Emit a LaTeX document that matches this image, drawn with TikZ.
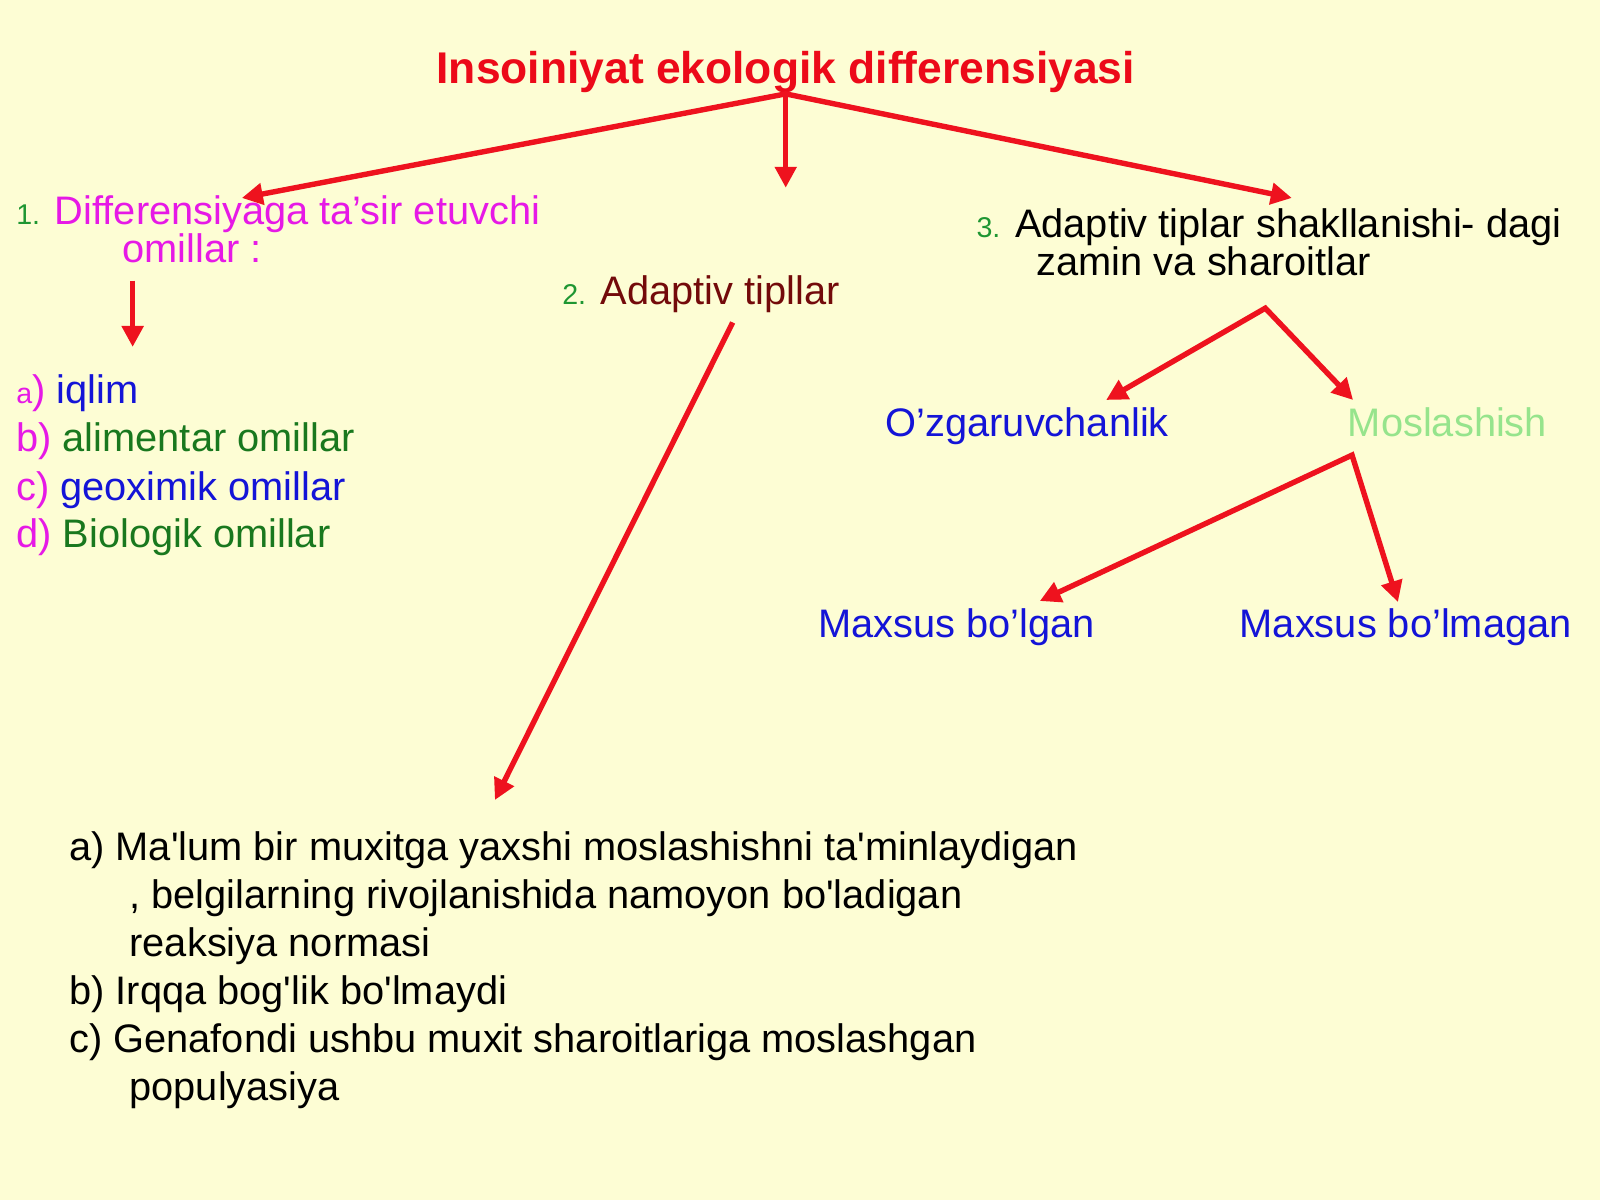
\documentclass[tikz,border=0pt]{standalone}
\usepackage{fontspec}
\setmainfont{Liberation Sans}[Ligatures=TeXOff]
\usetikzlibrary{arrows.meta}
\definecolor{bg}{RGB}{253,253,212}
\definecolor{ttlred}{RGB}{236,10,25}
\definecolor{arrred}{RGB}{238,18,30}
\definecolor{mag}{RGB}{230,25,230}
\definecolor{numgreen}{RGB}{30,150,50}
\definecolor{dkred}{RGB}{115,10,10}
\definecolor{blu}{RGB}{20,20,215}
\definecolor{dkgreen}{RGB}{25,120,30}
\definecolor{ltgreen}{RGB}{150,228,140}
\newcommand{\numlbl}[1]{\textcolor{numgreen}{\fontsize{28.6}{30}\selectfont #1}}
\begin{document}
\begin{tikzpicture}[x=1.0204pt,y=-1.0204pt,
  txt/.style={anchor=base west,inner sep=0pt,outer sep=0pt,font=\fontsize{39.8}{48}\selectfont},
  arr/.style={draw=arrred,line width=5.4pt,-{Triangle[length=21pt,width=21pt]}},
  arr2/.style={draw=arrred,line width=5.4pt,{Triangle[length=21pt,width=21pt]}-{Triangle[length=21pt,width=21pt]}},
  ]
\fill[bg] (0,0) rectangle (1568,1176);
\useasboundingbox (0,0) rectangle (1568,1176);

% title
\node[anchor=base,inner sep=0pt,font=\fontsize{44.4}{51}\selectfont\bfseries,text=ttlred] (title) at (770,82) {Insoiniyat ekologik differensiyasi};

% branch 1
\node[txt,text=mag] (b1a) at (16,220) {\numlbl{1.} Differensiyaga ta’sir etuvchi};
\node[txt,text=mag] (b1b) at (120,257) {omillar :};
\node[txt,text=mag] (la) at (16,395) {{\fontsize{28.6}{30}\selectfont a})\ \textcolor{blu}{iqlim}};
\node[txt,text=mag] (lb) at (16,442) {b)\ \textcolor{dkgreen}{alimentar omillar}};
\node[txt,text=mag] (lc) at (16,490) {c)\ \textcolor{blu}{geoximik omillar}};
\node[txt,text=mag] (ld) at (16,537) {d)\ \textcolor{dkgreen}{Biologik omillar}};

% branch 2
\node[txt,text=dkred] (b2) at (551,298) {\numlbl{2.} Adaptiv tipllar};
\node[txt] (m1) at (68,843) {a) Ma'lum bir muxitga yaxshi moslashishni ta'minlaydigan};
\node[txt] (m2) at (127,890) {, belgilarning rivojlanishida namoyon bo'ladigan};
\node[txt] (m3) at (127,937) {reaksiya normasi};
\node[txt] (m4) at (68,984) {b) Irqqa bog'lik bo'lmaydi};
\node[txt] (m5) at (68,1031) {c) Genafondi ushbu muxit sharoitlariga moslashgan};
\node[txt] (m6) at (127,1078) {populyasiya};

% branch 3
\node[txt] (b3a) at (957,233) {\numlbl{3.} Adaptiv tiplar shakllanishi- dagi};
\node[txt] (b3b) at (1016,270) {zamin va sharoitlar};
\node[txt,text=blu] (ozg) at (868,428) {O’zgaruvchanlik};
\node[txt,text=ltgreen] (mos) at (1321,428) {Moslashish};
\node[txt,text=blu] (mb) at (802,625) {Maxsus bo’lgan};
\node[txt,text=blu] (mbm) at (1215,625) {Maxsus bo’lmagan};

% connector points
\coordinate (hub) at (770,92);
\coordinate (t1) at (237,194);
\coordinate (t2) at (770,184);
\coordinate (t3) at (1266,194);
\coordinate (s1) at (130,275);
\coordinate (e1) at (130,340);
\coordinate (s2) at (718,316);
\coordinate (e2) at (485,784);
\coordinate (s3) at (1240,302);
\coordinate (e3a) at (1084,392);
\coordinate (e3b) at (1326,392);
\coordinate (s4) at (1325,446);
\coordinate (e4a) at (1019,589);
\coordinate (e4b) at (1370,590);

\draw[arr2] (t1) -- (hub) -- (t3);
\draw[arr] (hub) -- (t2);
\draw[arr] (s1) -- (e1);
\draw[arr] (s2) -- (e2);
\draw[arr2] (e3a) -- (s3) -- (e3b);
\draw[arr2] (e4a) -- (s4) -- (e4b);
\end{tikzpicture}
\end{document}
